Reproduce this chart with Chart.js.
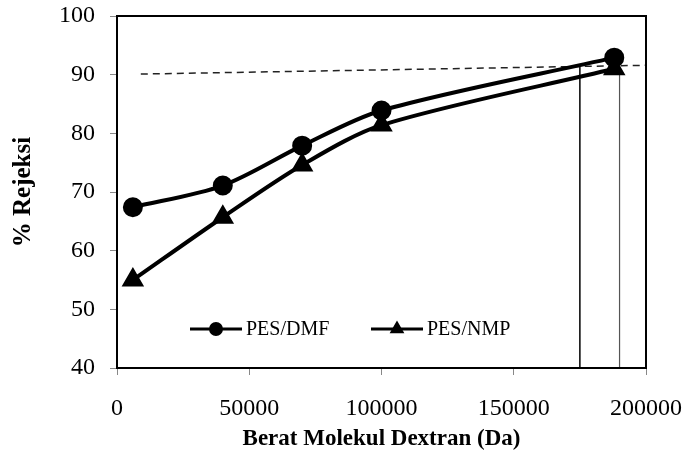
<!DOCTYPE html>
<html>
<head>
<meta charset="utf-8">
<script src="https://cdn.jsdelivr.net/npm/chart.js@4"></script>
<style>
  html, body { margin: 0; padding: 0; background: #fff; }
  #wrap { width: 684px; height: 461px; }
</style>
</head>
<body>
<div id="wrap"><canvas id="chart" width="684" height="461"></canvas></div>
<script>
// Berat molekul dextran (Da) dan % rejeksi
const beratMolekul = [6000, 40000, 70000, 100000, 188000];
const rejeksiDMF = [67.4, 71.1, 77.9, 83.9, 92.9];
const rejeksiNMP = [55.0, 65.7, 74.6, 81.4, 91.0];

// garis bantu (putus-putus dan garis vertikal)
const garisPutusX = [9000, 200000];
const garisPutusY = [90.1, 91.6];
const garisV1X = [175000, 175000];
const garisV1Y = [40, 91.4];
const garisV2X = [190000, 190000];
const garisV2Y = [40, 91.0];

const xTicks = [0, 50000, 100000, 150000, 200000];
const yTicks = [40, 50, 60, 70, 80, 90, 100];

const FONT = '"Liberation Serif", "Times New Roman", serif';

function titik(xs, ys) {
    return xs.map((x, i) => ({ x: x, y: ys[i] }));
}

// frame hitam di sekeliling area plot
const framePlugin = {
    id: 'frame',
    afterDraw(chart) {
        const a = chart.chartArea;
        const ctx = chart.ctx;
        ctx.save();
        ctx.strokeStyle = '#000';
        ctx.lineWidth = 2;
        ctx.strokeRect(a.left, a.top, a.right - a.left, a.bottom - a.top);
        ctx.restore();
    }
};

// legenda di dalam area plot
const legendPlugin = {
    id: 'legendDalam',
    afterDatasetsDraw(chart) {
        const ctx = chart.ctx;
        const a = chart.chartArea;
        const y = a.bottom - 39;
        const items = [
            { ds: 0, x: a.left + 73 },
            { ds: 1, x: a.left + 254 }
        ];
        ctx.save();
        items.forEach(it => {
            const ds = chart.data.datasets[it.ds];
            ctx.strokeStyle = '#000';
            ctx.lineWidth = 3;
            ctx.beginPath();
            ctx.moveTo(it.x, y);
            ctx.lineTo(it.x + 52, y);
            ctx.stroke();
            ctx.fillStyle = '#000';
            Chart.helpers.drawPoint(ctx, {
                pointStyle: ds.pointStyle,
                radius: 5.5,
                borderWidth: 1
            }, it.x + 26, y);
            ctx.font = '20px ' + FONT;
            ctx.textBaseline = 'middle';
            ctx.textAlign = 'left';
            ctx.fillText(ds.label, it.x + 56, y + 1);
        });
        ctx.restore();
    }
};

new Chart(document.getElementById('chart'), {
    type: 'line',
    data: {
        datasets: [
            {
                label: 'PES/DMF',
                data: titik(beratMolekul, rejeksiDMF),
                borderColor: '#000',
                backgroundColor: '#000',
                borderWidth: 4,
                pointStyle: 'circle',
                pointRadius: 8,
                tension: 0.3
            },
            {
                label: 'PES/NMP',
                data: titik(beratMolekul, rejeksiNMP),
                borderColor: '#000',
                backgroundColor: '#000',
                borderWidth: 4,
                pointStyle: 'triangle',
                pointRadius: 9,
                tension: 0.3
            },
            {
                label: 'garis',
                data: titik(garisPutusX, garisPutusY),
                borderColor: '#222',
                borderWidth: 1.5,
                borderDash: [7, 5],
                pointRadius: 0
            },
            {
                label: 'v1',
                data: titik(garisV1X, garisV1Y),
                borderColor: '#000',
                borderWidth: 1.5,
                pointRadius: 0
            },
            {
                label: 'v2',
                data: titik(garisV2X, garisV2Y),
                borderColor: '#555',
                borderWidth: 1.2,
                pointRadius: 0
            }
        ]
    },
    options: {
        responsive: false,
        animation: false,
        layout: { padding: { top: 16, right: 38, left: 0, bottom: 0 } },
        plugins: {
            legend: { display: false },
            tooltip: { enabled: false }
        },
        scales: {
            x: {
                type: 'linear',
                min: 0,
                max: 200000,
                afterBuildTicks: s => { s.ticks = xTicks.map(v => ({ value: v })); },
                afterFit: s => {
                    s.height = 93;
                    s.paddingLeft = 0;
                    s.paddingRight = 0;
                },
                grid: { display: true, drawOnChartArea: false, drawTicks: true, tickLength: 7, color: '#888' },
                border: { color: '#888', width: 2 },
                ticks: {
                    color: '#000',
                    font: { family: FONT, size: 24 },
                    padding: 19,
                    maxRotation: 0,
                    callback: v => String(v)
                },
                title: {
                    display: true,
                    text: 'Berat Molekul Dextran (Da)',
                    color: '#000',
                    font: { family: FONT, size: 23, weight: 'bold' },
                    padding: { top: 0, bottom: 8 }
                }
            },
            y: {
                min: 40,
                max: 100,
                afterBuildTicks: s => { s.ticks = yTicks.map(v => ({ value: v })); },
                afterFit: s => {
                    s.width = 117;
                    s.paddingTop = 0;
                    s.paddingBottom = 0;
                },
                grid: { display: true, drawOnChartArea: false, drawTicks: true, tickLength: 7, color: '#888' },
                border: { color: '#888', width: 2 },
                ticks: {
                    color: '#000',
                    font: { family: FONT, size: 24 },
                    padding: 15
                },
                title: {
                    display: true,
                    text: '% Rejeksi',
                    color: '#000',
                    font: { family: FONT, size: 25, weight: 'bold' },
                    padding: { top: 9, bottom: 0 }
                }
            }
        }
    },
    plugins: [framePlugin, legendPlugin]
});
</script>
</body>
</html>
